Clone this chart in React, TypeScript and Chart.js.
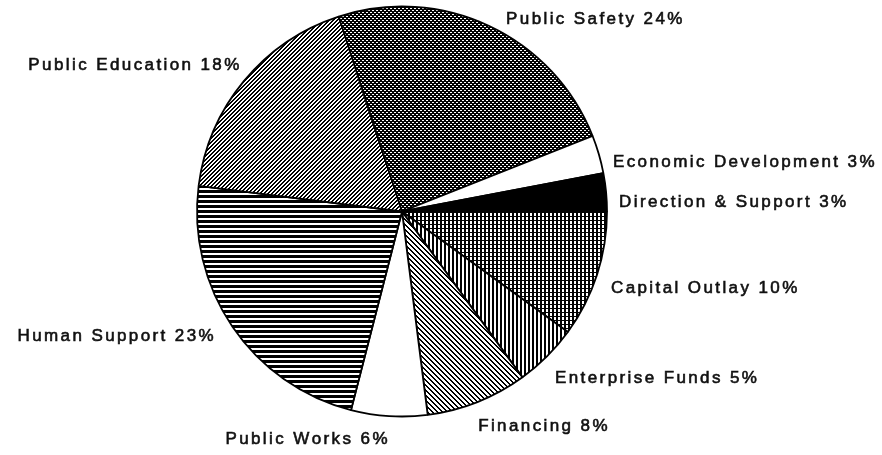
import React, { useEffect, useRef } from 'react';
import { Chart, registerables } from 'chart.js';

Chart.register(...registerables);

// ---- data (clockwise from 3 o'clock) ----
const categories = [
  'Capital Outlay',
  'Enterprise Funds',
  'Financing',
  'Public Works',
  'Human Support',
  'Public Education',
  'Public Safety',
  'Economic Development',
  'Direction & Support',
];
const shares = [10, 5, 8, 6, 23, 18, 24, 3, 3];
const labelTexts = categories.map((c, i) => `${c} ${shares[i]}%`);

// ---- styling / layout (not data) ----
const fillKinds = ['grid', 'vlines', 'bslash', 'white', 'hlines', 'fslash', 'cross', 'white', 'black'];
const labelNudge: [number, number][] = [
  [4.5, 14.7],
  [1, 19.5],
  [-3, 19.6],
  [-1, 18],
  [-10.5, 8.6],
  [3, -4.4],
  [12.5, 7],
  [4.5, 15.5],
  [3, 15.7],
];
const LABEL_GAP = 10;
const LETTER_SPACING = 2.4;
const LABEL_FONT = '17px "Liberation Sans", Arial, sans-serif';

function makeTile(size: number, dark: (x: number, y: number) => boolean): CanvasPattern | string {
  const c = document.createElement('canvas');
  c.width = size;
  c.height = size;
  const ctx = c.getContext('2d');
  if (!ctx) return '#888';
  ctx.fillStyle = '#fff';
  ctx.fillRect(0, 0, size, size);
  ctx.fillStyle = '#000';
  for (let y = 0; y < size; y++) {
    for (let x = 0; x < size; x++) {
      if (dark(x, y)) ctx.fillRect(x, y, 1, 1);
    }
  }
  const p = ctx.createPattern(c, 'repeat');
  return p || '#888';
}

function makeFill(kind: string): CanvasPattern | string {
  switch (kind) {
    case 'white':
      return '#ffffff';
    case 'black':
      return '#000000';
    case 'grid':
      return makeTile(4, (x, y) => x % 4 < 2 || y % 4 === 0);
    case 'vlines':
      return makeTile(4, (x) => x % 4 < 2);
    case 'hlines':
      return makeTile(5, (_x, y) => y % 5 < 3);
    case 'fslash':
      return makeTile(4, (x, y) => (x + y) % 4 < 2);
    case 'bslash':
      return makeTile(5, (x, y) => (x - y + 10) % 5 < 2);
    case 'cross':
      return makeTile(4, (x, y) => (x + y) % 4 < 2 || (x - y + 8) % 4 < 2);
    default:
      return '#888';
  }
}

function drawSpaced(ctx: CanvasRenderingContext2D, text: string, x: number, y: number, alignRight: boolean) {
  const chars = Array.from(text);
  const widths = chars.map((ch) => ctx.measureText(ch).width);
  const total = widths.reduce((a, b) => a + b, 0) + LETTER_SPACING * (chars.length - 1);
  let cx = alignRight ? x - total : x;
  ctx.textAlign = 'left';
  chars.forEach((ch, i) => {
    ctx.fillText(ch, cx, y);
    ctx.strokeText(ch, cx, y);
    cx += widths[i] + LETTER_SPACING;
  });
}

const sliceLabelPlugin = {
  id: 'sliceLabels',
  afterDatasetsDraw(chart: any) {
    const meta = chart.getDatasetMeta(0);
    const ctx: CanvasRenderingContext2D = chart.ctx;
    ctx.save();
    ctx.font = LABEL_FONT;
    ctx.fillStyle = '#111';
    ctx.strokeStyle = '#111';
    ctx.lineWidth = 0.6;
    ctx.textBaseline = 'alphabetic';
    meta.data.forEach((arc: any, i: number) => {
      const p = arc.getProps(['x', 'y', 'startAngle', 'endAngle', 'outerRadius'], true);
      const mid = (p.startAngle + p.endAngle) / 2;
      const r = p.outerRadius + LABEL_GAP;
      const ax = p.x + Math.cos(mid) * r;
      const ay = p.y + Math.sin(mid) * r;
      const right = Math.cos(mid) < 0;
      const [dx, dy] = labelNudge[i];
      drawSpaced(ctx, labelTexts[i], ax + dx, ay + dy, right);
    });
    ctx.restore();
  },
};

export default function App() {
  const ref = useRef<HTMLCanvasElement | null>(null);
  useEffect(() => {
    if (!ref.current) return;
    const fills = fillKinds.map(makeFill);
    const chart = new Chart(ref.current, {
      type: 'pie',
      data: {
        labels: categories,
        datasets: [
          {
            data: shares,
            backgroundColor: fills as any,
            borderColor: '#000',
            borderWidth: 1.8,
            hoverOffset: 0,
          },
        ],
      },
      options: {
        responsive: false,
        animation: false,
        rotation: 90,
        radius: 205,
        layout: { padding: { left: 0, right: 78, top: 0, bottom: 32 } },
        plugins: {
          legend: { display: false },
          tooltip: { enabled: false },
        },
        events: [],
      } as any,
      plugins: [sliceLabelPlugin],
    });
    return () => chart.destroy();
  }, []);
  return (
    <div style={{ position: 'fixed', left: 0, top: 0, width: 882, height: 455, background: '#fff' }}>
      <canvas ref={ref} width={882} height={455} style={{ display: 'block' }} />
    </div>
  );
}
